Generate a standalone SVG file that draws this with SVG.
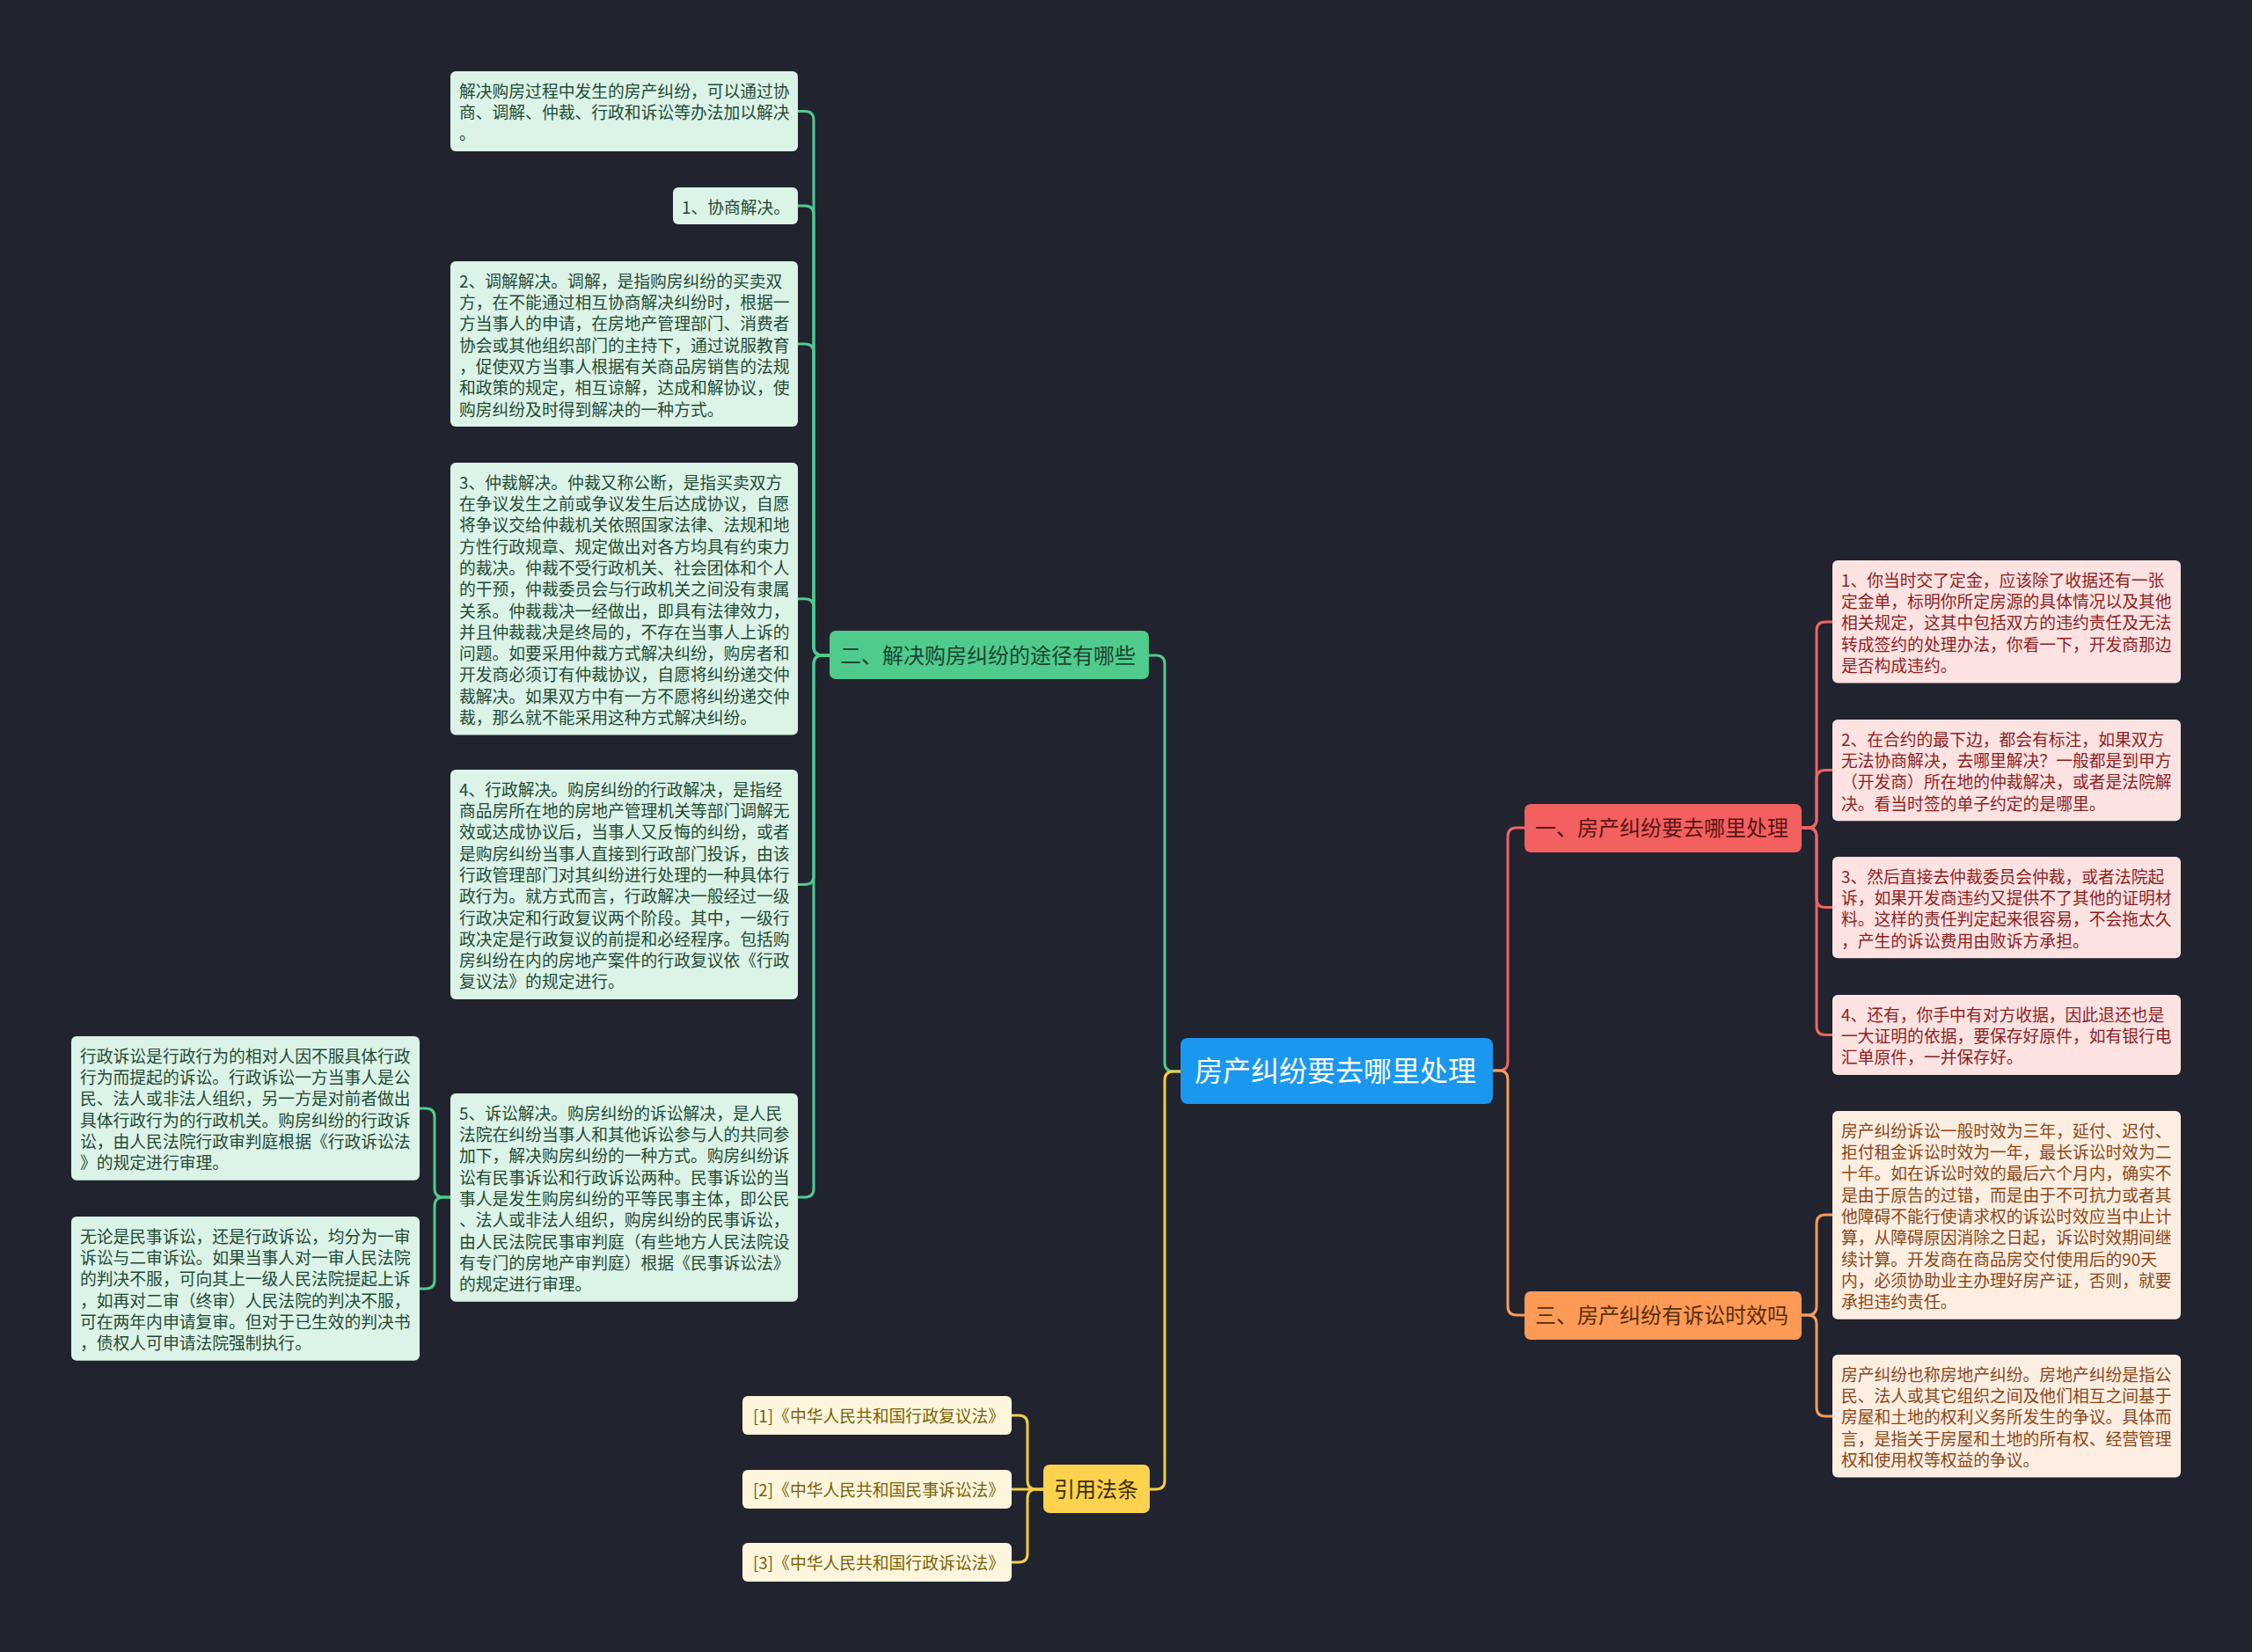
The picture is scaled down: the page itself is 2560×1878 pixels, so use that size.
<svg xmlns="http://www.w3.org/2000/svg" width="2560" height="1878" viewBox="0 0 2560 1878">
<style>
text{font-family:"Noto Sans CJK SC","Noto Sans",sans-serif;dominant-baseline:central}
.leaf{font-size:18.8px}
.lg rect{fill:#dcf3e7}.lg text{fill:#1f4a35}
.lr rect{fill:#fde2e2}.lr text{fill:#8c1e1e}
.lo rect{fill:#fdeee2}.lo text{fill:#8a4616}
.ly rect{fill:#fdf6dd}.ly text{fill:#7a6106}
.c{fill:none;stroke-width:3;stroke-linecap:round}
.cg{stroke:#4ecb8d}.cr{stroke:#ee6462}.co{stroke:#f59c5a}.cy{stroke:#f4cd48}
</style>
<rect width="2560" height="1878" fill="#21242f"/>
<g id="connectors">
<path class="c cg" d="M1342 1218 H1334 Q1324 1218 1324 1208 V755 Q1324 745 1314 745 H1306"/>
<path class="c cy" d="M1342 1218 H1334 Q1324 1218 1324 1228 V1683 Q1324 1693 1314 1693 H1307"/>
<path class="c cr" d="M1697 1217 H1704 Q1714 1217 1714 1207 V951 Q1714 941 1724 941 H1733"/>
<path class="c co" d="M1697 1217 H1704 Q1714 1217 1714 1227 V1485 Q1714 1495 1724 1495 H1733"/>
<path class="c cg" d="M943 745 H935 Q925 745 925 735 V136.5 Q925 126.5 915 126.5 H907"/>
<path class="c cg" d="M943 745 H935 Q925 745 925 735 V244 Q925 234 915 234 H907"/>
<path class="c cg" d="M943 745 H935 Q925 745 925 735 V401 Q925 391 915 391 H907"/>
<path class="c cg" d="M943 745 H935 Q925 745 925 735 V690.8 Q925 680.8 915 680.8 H907"/>
<path class="c cg" d="M943 745 H935 Q925 745 925 755 V995.5 Q925 1005.5 915 1005.5 H907"/>
<path class="c cg" d="M943 745 H935 Q925 745 925 755 V1351 Q925 1361 915 1361 H907"/>
<path class="c cg" d="M512 1361 H504 Q494 1361 494 1351 V1270 Q494 1260 484 1260 H477"/>
<path class="c cg" d="M512 1361 H504 Q494 1361 494 1371 V1455 Q494 1465 484 1465 H477"/>
<path class="c cr" d="M2048 941 H2055 Q2065 941 2065 931 V717 Q2065 707 2075 707 H2083"/>
<path class="c cr" d="M2048 941 H2055 Q2065 941 2065 931 V885.6 Q2065 875.6 2075 875.6 H2083"/>
<path class="c cr" d="M2048 941 H2055 Q2065 941 2065 951 V1021.6 Q2065 1031.6 2075 1031.6 H2083"/>
<path class="c cr" d="M2048 941 H2055 Q2065 941 2065 951 V1166.5 Q2065 1176.5 2075 1176.5 H2083"/>
<path class="c co" d="M2048 1495 H2055 Q2065 1495 2065 1485 V1391 Q2065 1381 2075 1381 H2083"/>
<path class="c co" d="M2048 1495 H2055 Q2065 1495 2065 1505 V1600 Q2065 1610 2075 1610 H2083"/>
<path class="c cy" d="M1186 1693 H1178 Q1168 1693 1168 1683 V1619 Q1168 1609 1158 1609 H1150"/>
<path class="c cy" d="M1186 1693 H1150"/>
<path class="c cy" d="M1186 1693 H1178 Q1168 1693 1168 1703 V1766 Q1168 1776 1158 1776 H1150"/>
</g>
<g id="root"><rect x="1342" y="1180" width="355" height="75" rx="8" fill="#1a98ef"/><text x="1358" y="1215" font-size="32" fill="#ffffff">房产纠纷要去哪里处理</text></g>
<g id="b2"><rect x="943" y="717" width="363" height="55" rx="7" fill="#4ecb8d"/><text x="955" y="743" font-size="24" fill="#1c4431">二、解决购房纠纷的途径有哪些</text></g>
<g id="b1"><rect x="1733" y="914" width="315" height="55" rx="7" fill="#f2605f"/><text x="1745" y="939" font-size="24" fill="#5a1414">一、房产纠纷要去哪里处理</text></g>
<g id="b3"><rect x="1733" y="1468" width="315" height="55" rx="7" fill="#fd9a55"/><text x="1745" y="1493" font-size="24" fill="#5a2c0a">三、房产纠纷有诉讼时效吗</text></g>
<g id="b4"><rect x="1186" y="1665" width="121" height="55" rx="7" fill="#fdd24f"/><text x="1198" y="1691" font-size="24" fill="#3a2e00">引用法条</text></g>

<g id="gA" class="lg leaf"><rect x="512" y="81" width="395" height="91" rx="6"/>
<text x="522" y="102.2">解决购房过程中发生的房产纠纷，可以通过协</text>
<text x="522" y="126.5">商、调解、仲裁、行政和诉讼等办法加以解决</text>
<text x="522" y="150.8">。</text></g>
<g id="gB" class="lg leaf"><rect x="765" y="213" width="142" height="42" rx="6"/>
<text x="775" y="234">1、协商解决。</text></g>
<g id="gC" class="lg leaf"><rect x="512" y="297" width="395" height="188" rx="6"/>
<text x="522" y="318.2">2、调解解决。调解，是指购房纠纷的买卖双</text>
<text x="522" y="342.5">方，在不能通过相互协商解决纠纷时，根据一</text>
<text x="522" y="366.8">方当事人的申请，在房地产管理部门、消费者</text>
<text x="522" y="391.1">协会或其他组织部门的主持下，通过说服教育</text>
<text x="522" y="415.4">，促使双方当事人根据有关商品房销售的法规</text>
<text x="522" y="439.7">和政策的规定，相互谅解，达成和解协议，使</text>
<text x="522" y="464">购房纠纷及时得到解决的一种方式。</text></g>
<g id="gD" class="lg leaf"><rect x="512" y="526" width="395" height="309.6" rx="6"/>
<text x="522" y="547.2">3、仲裁解决。仲裁又称公断，是指买卖双方</text>
<text x="522" y="571.5">在争议发生之前或争议发生后达成协议，自愿</text>
<text x="522" y="595.8">将争议交给仲裁机关依照国家法律、法规和地</text>
<text x="522" y="620.1">方性行政规章、规定做出对各方均具有约束力</text>
<text x="522" y="644.4">的裁决。仲裁不受行政机关、社会团体和个人</text>
<text x="522" y="668.7">的干预，仲裁委员会与行政机关之间没有隶属</text>
<text x="522" y="693">关系。仲裁裁决一经做出，即具有法律效力，</text>
<text x="522" y="717.3">并且仲裁裁决是终局的，不存在当事人上诉的</text>
<text x="522" y="741.6">问题。如要采用仲裁方式解决纠纷，购房者和</text>
<text x="522" y="765.9">开发商必须订有仲裁协议，自愿将纠纷递交仲</text>
<text x="522" y="790.2">裁解决。如果双方中有一方不愿将纠纷递交仲</text>
<text x="522" y="814.5">裁，那么就不能采用这种方式解决纠纷。</text></g>
<g id="gE" class="lg leaf"><rect x="512" y="875" width="395" height="261" rx="6"/>
<text x="522" y="896.2">4、行政解决。购房纠纷的行政解决，是指经</text>
<text x="522" y="920.5">商品房所在地的房地产管理机关等部门调解无</text>
<text x="522" y="944.8">效或达成协议后，当事人又反悔的纠纷，或者</text>
<text x="522" y="969.1">是购房纠纷当事人直接到行政部门投诉，由该</text>
<text x="522" y="993.4">行政管理部门对其纠纷进行处理的一种具体行</text>
<text x="522" y="1017.7">政行为。就方式而言，行政解决一般经过一级</text>
<text x="522" y="1042">行政决定和行政复议两个阶段。其中，一级行</text>
<text x="522" y="1066.3">政决定是行政复议的前提和必经程序。包括购</text>
<text x="522" y="1090.6">房纠纷在内的房地产案件的行政复议依《行政</text>
<text x="522" y="1114.9">复议法》的规定进行。</text></g>
<g id="gF" class="lg leaf"><rect x="512" y="1243" width="395" height="236.7" rx="6"/>
<text x="522" y="1264.2">5、诉讼解决。购房纠纷的诉讼解决，是人民</text>
<text x="522" y="1288.5">法院在纠纷当事人和其他诉讼参与人的共同参</text>
<text x="522" y="1312.8">加下，解决购房纠纷的一种方式。购房纠纷诉</text>
<text x="522" y="1337.1">讼有民事诉讼和行政诉讼两种。民事诉讼的当</text>
<text x="522" y="1361.4">事人是发生购房纠纷的平等民事主体，即公民</text>
<text x="522" y="1385.7">、法人或非法人组织，购房纠纷的民事诉讼，</text>
<text x="522" y="1410">由人民法院民事审判庭（有些地方人民法院设</text>
<text x="522" y="1434.3">有专门的房地产审判庭）根据《民事诉讼法》</text>
<text x="522" y="1458.6">的规定进行审理。</text></g>
<g id="gG" class="lg leaf"><rect x="81" y="1178" width="396" height="163.8" rx="6"/>
<text x="91" y="1199.2">行政诉讼是行政行为的相对人因不服具体行政</text>
<text x="91" y="1223.5">行为而提起的诉讼。行政诉讼一方当事人是公</text>
<text x="91" y="1247.8">民、法人或非法人组织，另一方是对前者做出</text>
<text x="91" y="1272.1">具体行政行为的行政机关。购房纠纷的行政诉</text>
<text x="91" y="1296.4">讼，由人民法院行政审判庭根据《行政诉讼法</text>
<text x="91" y="1320.7">》的规定进行审理。</text></g>
<g id="gH" class="lg leaf"><rect x="81" y="1383" width="396" height="163.8" rx="6"/>
<text x="91" y="1404.2">无论是民事诉讼，还是行政诉讼，均分为一审</text>
<text x="91" y="1428.5">诉讼与二审诉讼。如果当事人对一审人民法院</text>
<text x="91" y="1452.8">的判决不服，可向其上一级人民法院提起上诉</text>
<text x="91" y="1477.1">，如再对二审（终审）人民法院的判决不服，</text>
<text x="91" y="1501.4">可在两年内申请复审。但对于已生效的判决书</text>
<text x="91" y="1525.7">，债权人可申请法院强制执行。</text></g>

<g id="r1" class="lr leaf"><rect x="2083" y="637" width="396" height="139.5" rx="6"/>
<text x="2093" y="658.2">1、你当时交了定金，应该除了收据还有一张</text>
<text x="2093" y="682.5">定金单，标明你所定房源的具体情况以及其他</text>
<text x="2093" y="706.8">相关规定，这其中包括双方的违约责任及无法</text>
<text x="2093" y="731.1">转成签约的处理办法，你看一下，开发商那边</text>
<text x="2093" y="755.4">是否构成违约。</text></g>
<g id="r2" class="lr leaf"><rect x="2083" y="818" width="396" height="115.2" rx="6"/>
<text x="2093" y="839.2">2、在合约的最下边，都会有标注，如果双方</text>
<text x="2093" y="863.5">无法协商解决，去哪里解决？一般都是到甲方</text>
<text x="2093" y="887.8">（开发商）所在地的仲裁解决，或者是法院解</text>
<text x="2093" y="912.1">决。看当时签的单子约定的是哪里。</text></g>
<g id="r3" class="lr leaf"><rect x="2083" y="974" width="396" height="115.2" rx="6"/>
<text x="2093" y="995.2">3、然后直接去仲裁委员会仲裁，或者法院起</text>
<text x="2093" y="1019.5">诉，如果开发商违约又提供不了其他的证明材</text>
<text x="2093" y="1043.8">料。这样的责任判定起来很容易，不会拖太久</text>
<text x="2093" y="1068.1">，产生的诉讼费用由败诉方承担。</text></g>
<g id="r4" class="lr leaf"><rect x="2083" y="1131" width="396" height="90.9" rx="6"/>
<text x="2093" y="1152.2">4、还有，你手中有对方收据，因此退还也是</text>
<text x="2093" y="1176.5">一大证明的依据，要保存好原件，如有银行电</text>
<text x="2093" y="1200.8">汇单原件，一并保存好。</text></g>
<g id="o1" class="lo leaf"><rect x="2083" y="1263" width="396" height="236.7" rx="6"/>
<text x="2093" y="1284.2">房产纠纷诉讼一般时效为三年，延付、迟付、</text>
<text x="2093" y="1308.5">拒付租金诉讼时效为一年，最长诉讼时效为二</text>
<text x="2093" y="1332.8">十年。如在诉讼时效的最后六个月内，确实不</text>
<text x="2093" y="1357.1">是由于原告的过错，而是由于不可抗力或者其</text>
<text x="2093" y="1381.4">他障碍不能行使请求权的诉讼时效应当中止计</text>
<text x="2093" y="1405.7">算，从障碍原因消除之日起，诉讼时效期间继</text>
<text x="2093" y="1430">续计算。开发商在商品房交付使用后的90天</text>
<text x="2093" y="1454.3">内，必须协助业主办理好房产证，否则，就要</text>
<text x="2093" y="1478.6">承担违约责任。</text></g>
<g id="o2" class="lo leaf"><rect x="2083" y="1540" width="396" height="139.5" rx="6"/>
<text x="2093" y="1561.2">房产纠纷也称房地产纠纷。房地产纠纷是指公</text>
<text x="2093" y="1585.5">民、法人或其它组织之间及他们相互之间基于</text>
<text x="2093" y="1609.8">房屋和土地的权利义务所发生的争议。具体而</text>
<text x="2093" y="1634.1">言，是指关于房屋和土地的所有权、经营管理</text>
<text x="2093" y="1658.4">权和使用权等权益的争议。</text></g>

<g id="y1" class="ly leaf"><rect x="844" y="1587" width="306" height="44" rx="6"/><text x="856" y="1608">[1]《中华人民共和国行政复议法》</text></g>
<g id="y2" class="ly leaf"><rect x="844" y="1671" width="306" height="44" rx="6"/><text x="856" y="1692">[2]《中华人民共和国民事诉讼法》</text></g>
<g id="y3" class="ly leaf"><rect x="844" y="1754" width="306" height="44" rx="6"/><text x="856" y="1775">[3]《中华人民共和国行政诉讼法》</text></g>
</svg>
